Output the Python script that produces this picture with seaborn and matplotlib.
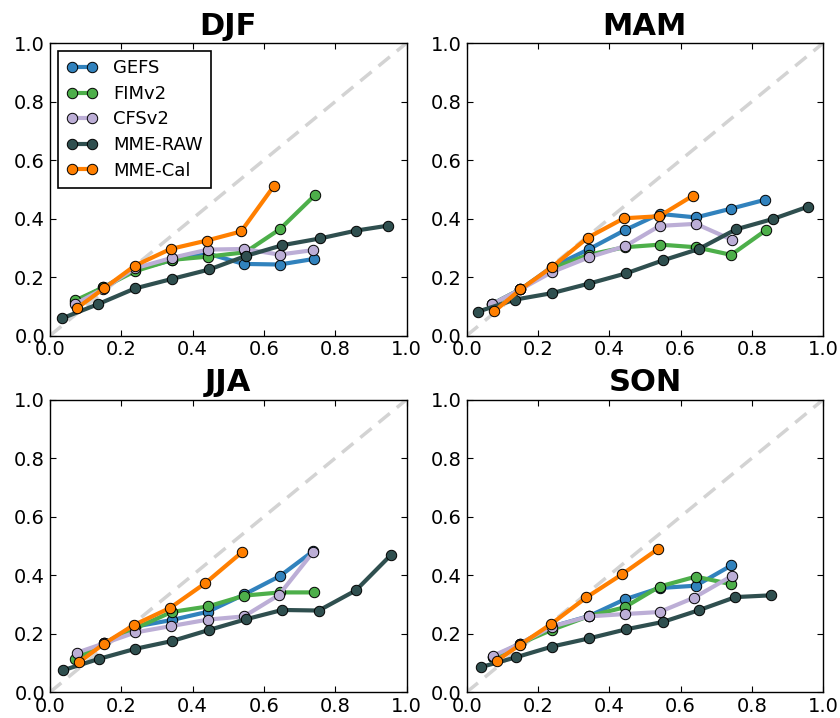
import numpy as np
import pandas as pd
import matplotlib
matplotlib.use("Agg")
import matplotlib.pyplot as plt
from matplotlib.lines import Line2D
import seaborn as sns

seasons = ["DJF", "MAM", "JJA", "SON"]
models = ["GEFS", "FIMv2", "CFSv2", "MME-RAW", "MME-Cal"]
colors = ["#3182bd", "#4daf4a", "#bcaed6", "#2f4f4f", "#ff7f00"]

# DJF
djf_gefs_x = [0.071, 0.150, 0.238, 0.343, 0.443, 0.543, 0.644, 0.740]
djf_gefs_y = [0.115, 0.165, 0.225, 0.258, 0.280, 0.245, 0.243, 0.262]
djf_fim_x = [0.071, 0.150, 0.238, 0.343, 0.443, 0.548, 0.645, 0.743]
djf_fim_y = [0.120, 0.165, 0.220, 0.259, 0.270, 0.285, 0.364, 0.480]
djf_cfs_x = [0.071, 0.150, 0.238, 0.343, 0.443, 0.543, 0.644, 0.737]
djf_cfs_y = [0.108, 0.160, 0.230, 0.266, 0.294, 0.296, 0.277, 0.292]
djf_raw_x = [0.034, 0.134, 0.238, 0.343, 0.447, 0.551, 0.652, 0.757, 0.859, 0.949]
djf_raw_y = [0.059, 0.107, 0.161, 0.194, 0.226, 0.273, 0.309, 0.332, 0.359, 0.376]
djf_cal_x = [0.077, 0.151, 0.238, 0.338, 0.440, 0.536, 0.629]
djf_cal_y = [0.095, 0.161, 0.239, 0.296, 0.325, 0.356, 0.513]

# MAM
mam_gefs_x = [0.072, 0.151, 0.239, 0.344, 0.443, 0.541, 0.643, 0.742, 0.836]
mam_gefs_y = [0.108, 0.158, 0.234, 0.296, 0.360, 0.416, 0.404, 0.434, 0.464]
mam_fim_x = [0.072, 0.151, 0.239, 0.344, 0.443, 0.543, 0.643, 0.742, 0.839]
mam_fim_y = [0.108, 0.158, 0.230, 0.277, 0.302, 0.311, 0.302, 0.276, 0.360]
mam_cfs_x = [0.072, 0.151, 0.239, 0.344, 0.445, 0.541, 0.643, 0.745]
mam_cfs_y = [0.108, 0.158, 0.217, 0.268, 0.306, 0.375, 0.382, 0.327]
mam_raw_x = [0.032, 0.136, 0.239, 0.344, 0.448, 0.550, 0.651, 0.755, 0.860, 0.958]
mam_raw_y = [0.082, 0.123, 0.145, 0.178, 0.213, 0.257, 0.296, 0.363, 0.399, 0.441]
mam_cal_x = [0.078, 0.151, 0.239, 0.340, 0.441, 0.540, 0.634]
mam_cal_y = [0.083, 0.158, 0.234, 0.335, 0.401, 0.408, 0.478]

# JJA
jja_gefs_x = [0.076, 0.152, 0.239, 0.343, 0.443, 0.545, 0.645, 0.739]
jja_gefs_y = [0.115, 0.167, 0.224, 0.247, 0.275, 0.334, 0.397, 0.483]
jja_fim_x = [0.071, 0.152, 0.239, 0.341, 0.443, 0.545, 0.645, 0.740]
jja_fim_y = [0.113, 0.167, 0.218, 0.274, 0.293, 0.330, 0.341, 0.341]
jja_cfs_x = [0.076, 0.152, 0.239, 0.340, 0.443, 0.544, 0.642, 0.738]
jja_cfs_y = [0.135, 0.167, 0.204, 0.226, 0.248, 0.259, 0.332, 0.479]
jja_raw_x = [0.037, 0.138, 0.239, 0.343, 0.447, 0.549, 0.651, 0.754, 0.858, 0.957]
jja_raw_y = [0.075, 0.114, 0.148, 0.175, 0.213, 0.249, 0.281, 0.279, 0.348, 0.470]
jja_cal_x = [0.081, 0.152, 0.236, 0.337, 0.436, 0.538]
jja_cal_y = [0.102, 0.166, 0.230, 0.288, 0.373, 0.478]

# SON
son_gefs_x = [0.075, 0.150, 0.239, 0.343, 0.443, 0.541, 0.643, 0.742]
son_gefs_y = [0.120, 0.166, 0.224, 0.260, 0.317, 0.356, 0.364, 0.433]
son_fim_x = [0.075, 0.150, 0.239, 0.343, 0.443, 0.541, 0.643, 0.742]
son_fim_y = [0.120, 0.166, 0.213, 0.260, 0.290, 0.361, 0.395, 0.369]
son_cfs_x = [0.075, 0.150, 0.239, 0.343, 0.443, 0.541, 0.638, 0.745]
son_cfs_y = [0.125, 0.166, 0.224, 0.259, 0.267, 0.274, 0.323, 0.398]
son_raw_x = [0.041, 0.138, 0.240, 0.344, 0.448, 0.550, 0.651, 0.754, 0.853]
son_raw_y = [0.086, 0.119, 0.156, 0.184, 0.215, 0.240, 0.280, 0.325, 0.331]
son_cal_x = [0.084, 0.150, 0.236, 0.336, 0.436, 0.536]
son_cal_y = [0.107, 0.162, 0.232, 0.324, 0.403, 0.489]

series = {
    "DJF": [(djf_gefs_x, djf_gefs_y), (djf_fim_x, djf_fim_y), (djf_cfs_x, djf_cfs_y),
            (djf_raw_x, djf_raw_y), (djf_cal_x, djf_cal_y)],
    "MAM": [(mam_gefs_x, mam_gefs_y), (mam_fim_x, mam_fim_y), (mam_cfs_x, mam_cfs_y),
            (mam_raw_x, mam_raw_y), (mam_cal_x, mam_cal_y)],
    "JJA": [(jja_gefs_x, jja_gefs_y), (jja_fim_x, jja_fim_y), (jja_cfs_x, jja_cfs_y),
            (jja_raw_x, jja_raw_y), (jja_cal_x, jja_cal_y)],
    "SON": [(son_gefs_x, son_gefs_y), (son_fim_x, son_fim_y), (son_cfs_x, son_cfs_y),
            (son_raw_x, son_raw_y), (son_cal_x, son_cal_y)],
}

rows = []
for s in seasons:
    for m, (xs, ys) in zip(models, series[s]):
        for i, (xv, yv) in enumerate(zip(xs, ys)):
            rows.append({"season": s, "model": m, "idx": i, "x": xv, "y": yv})
df = pd.DataFrame(rows)

sns.set_style("ticks")
plt.rcParams.update({
    "font.family": ["DejaVu Sans"],
    "text.color": "black", "axes.titlecolor": "black", "axes.labelcolor": "black",
    "xtick.direction": "in", "ytick.direction": "in",
    "xtick.top": True, "ytick.right": True,
    "xtick.major.size": 4.5, "ytick.major.size": 4.5,
    "xtick.major.width": 0.8, "ytick.major.width": 0.8,
    "axes.edgecolor": "black", "axes.linewidth": 1.0,
    "xtick.color": "black", "ytick.color": "black",
    "xtick.labelsize": 14, "ytick.labelsize": 14,
})

fig, axes = plt.subplots(2, 2, figsize=(8.4, 7.18), dpi=100)
fig.subplots_adjust(left=0.0595, right=0.98, bottom=0.036, top=0.94,
                    wspace=0.1685, hspace=0.219)

LW = 3.0
MS = 7.5
for ax, s in zip(axes.flat, seasons):
    ax.plot([0, 1], [0, 1], color="#d3d3d3", lw=2.5, ls="--", dashes=(4.2, 2.6), zorder=1)
    for k, (m, c) in enumerate(zip(models, colors)):
        sub = df[(df.season == s) & (df.model == m)]
        sns.lineplot(data=sub, x="x", y="y", ax=ax, color=c, lw=LW, sort=False,
                     estimator=None, marker="o", markersize=MS,
                     markeredgecolor="black", markeredgewidth=0.7,
                     zorder=2 + k, legend=False)
    ticks = np.arange(0, 1.01, 0.2)
    ax.set_xlim(0, 1)
    ax.set_ylim(0, 1)
    ax.set_xticks(ticks)
    ax.set_yticks(ticks)
    ax.set_xticklabels([f"{v:.1f}" for v in ticks])
    ax.set_yticklabels([f"{v:.1f}" for v in ticks])
    ax.set_xlabel("")
    ax.set_ylabel("")
    ax.set_title(s, fontsize=22, fontweight="bold", pad=6, color="black")
    for sp in ax.spines.values():
        sp.set_visible(True)

handles = [Line2D([0], [0], color=c, lw=LW, marker="o", markersize=MS,
                  markeredgecolor="black", markeredgewidth=0.7) for c in colors]
leg = axes[0, 0].legend(handles, models, loc="upper left", numpoints=2,
                        fontsize=13, frameon=True, fancybox=False,
                        edgecolor="black", framealpha=1, borderaxespad=0.45,
                        handlelength=1.7, handletextpad=0.9, labelspacing=0.42,
                        borderpad=0.45, labelcolor="black")
leg.get_frame().set_linewidth(1.2)

fig.savefig("out.png", dpi=100)
